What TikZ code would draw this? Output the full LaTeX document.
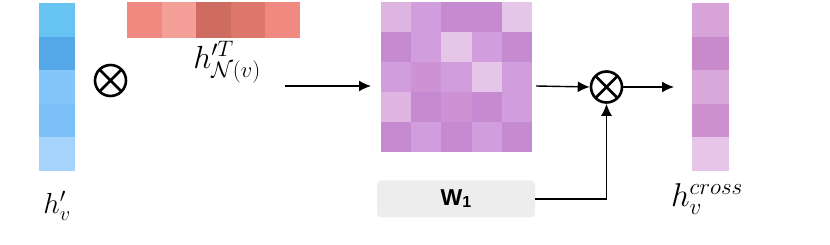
\documentclass[tikz,border=0pt]{standalone}
\usepackage{fix-cm}
\usepackage{fontspec}
\usepackage{amsmath}
\newfontfamily\lsans{Liberation Sans}
\usetikzlibrary{arrows.meta}
\definecolor{b1}{RGB}{102,195,242}
\definecolor{b2}{RGB}{85,168,232}
\definecolor{b3}{RGB}{133,198,250}
\definecolor{b4}{RGB}{124,192,250}
\definecolor{b5}{RGB}{166,211,252}
\definecolor{r1}{RGB}{240,138,128}
\definecolor{r2}{RGB}{244,160,152}
\definecolor{r3}{RGB}{207,108,98}
\definecolor{r4}{RGB}{221,119,108}
\definecolor{r5}{RGB}{240,138,128}
\definecolor{pa}{RGB}{221,181,224}
\definecolor{pb}{RGB}{210,157,220}
\definecolor{pc}{RGB}{198,138,208}
\definecolor{pd}{RGB}{229,197,232}
\definecolor{pe}{RGB}{204,146,212}
\definecolor{o1}{RGB}{215,163,217}
\definecolor{o2}{RGB}{201,138,204}
\definecolor{o3}{RGB}{216,168,218}
\definecolor{o4}{RGB}{204,144,207}
\definecolor{o5}{RGB}{230,197,232}
\definecolor{wfill}{RGB}{237,237,237}
\tikzset{
  cell/.style={inner sep=0pt, outer sep=0pt},
  otimesnode/.style={circle, draw, line width=2.6pt, minimum size=31pt, inner sep=0pt,
    path picture={\draw[line width=2.6pt] (path picture bounding box.north west) -- (path picture bounding box.south east)
      (path picture bounding box.north east) -- (path picture bounding box.south west);}},
  conn/.style={line width=1.4pt, -{Latex[length=12pt,width=11pt]}},
  lbl/.style={inner sep=0pt}
}
\begin{document}
\begin{tikzpicture}[x=1pt,y=-1pt]
\useasboundingbox (0,0) rectangle (830,245);
% blue column
\foreach \c [count=\i] in {b1,b2,b3,b4,b5}{
  \fill[\c] (39,{3+(\i-1)*33.6}) rectangle (75,{3+\i*33.6});
}
\node[cell] (hv) at (57,87) {};
% red row
\foreach \c [count=\i] in {r1,r2,r3,r4,r5}{
  \fill[\c] ({127+(\i-1)*34.6},2) rectangle ({127+\i*34.6},38);
}
% matrix
\foreach \row [count=\j] in {{pa,pb,pc,pc,pd},{pc,pb,pd,pb,pc},{pb,pe,pb,pd,pb},{pa,pc,pe,pc,pb},{pc,pb,pc,pb,pc}}{
  \foreach \c [count=\i] in \row {
    \fill[\c] ({381+(\i-1)*30.2},{2+(\j-1)*30}) rectangle ({381+\i*30.2},{2+\j*30});
  }
}
\node[cell, minimum width=151pt, minimum height=150pt] (mat) at (456.5,77) {};
% output column
\foreach \c [count=\i] in {o1,o2,o3,o4,o5}{
  \fill[\c] (692,{3+(\i-1)*33.6}) rectangle (729,{3+\i*33.6});
}
% otimes
\node[otimesnode] (ot1) at (110.5,80.5) {};
\node[otimesnode] (ot2) at (606.5,87) {};
% W1 box
\node[fill=wfill, rounded corners=4pt, minimum width=158pt, minimum height=37pt, inner sep=0pt] (w1) at (456,199)
  {\lsans\bfseries\fontsize{23}{26}\selectfont W\raisebox{-2pt}{\fontsize{16}{18}\selectfont 1}};
% labels
\node[lbl, font=\fontsize{29}{34}\selectfont] (lhv) at (57,206) {$h'_v$};
\node[lbl, font=\fontsize{32}{38}\selectfont] (lhn) at (227,62) {$h'^{T}_{\mathcal{N}(v)}$};
\node[lbl, font=\fontsize{33}{38}\selectfont] (lhc) at (707,199) {$h_v^{cross}$};
% connectors
\coordinate (a1s) at (285,86);
\coordinate (a1e) at (371,86);
\draw[conn] (a1s) -- (a1e);
\coordinate (a2s) at (536,86);
\draw[conn] (a2s) -- (ot2.west);
\coordinate (a3e) at (674,87);
\draw[conn] (ot2.east) -- (a3e);
\coordinate (corner) at (ot2.south |- w1.east);
\draw[conn] (w1.east) -- (corner) -- (ot2.south);
\end{tikzpicture}
\end{document}
